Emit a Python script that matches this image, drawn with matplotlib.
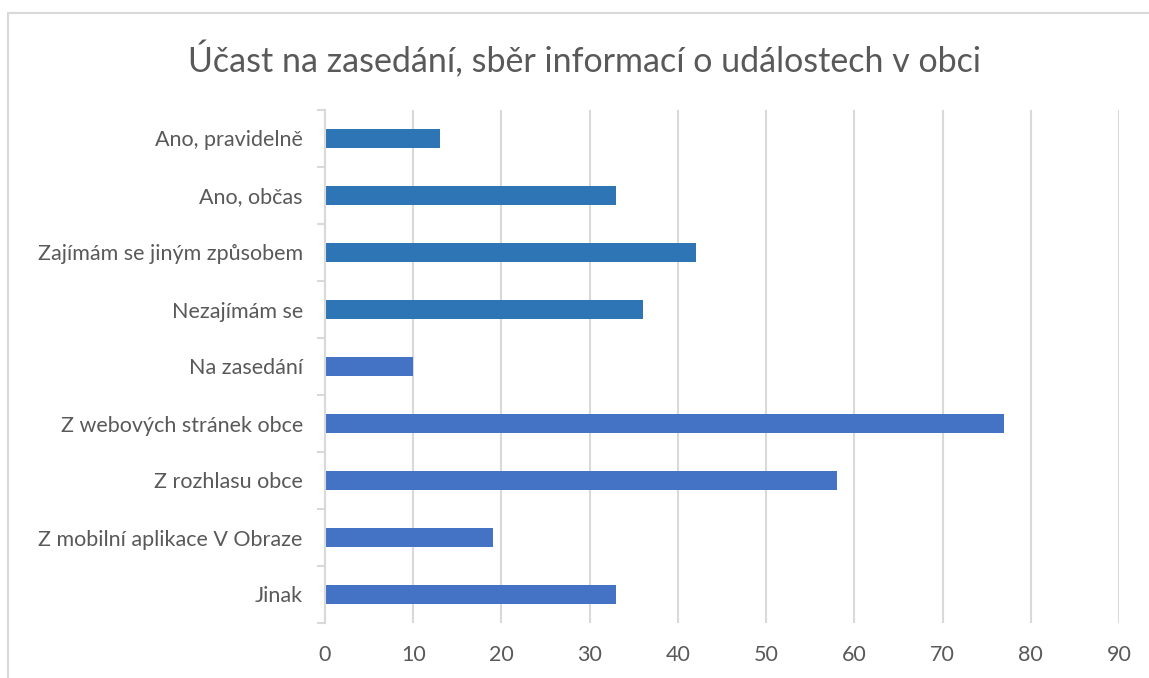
import numpy as np
import matplotlib.pyplot as plt
from matplotlib.patches import Rectangle

plt.rcParams['font.family'] = ['Lato', 'DejaVu Sans']

# data, top to bottom as shown
categories = ['Ano, pravidelně', 'Ano, občas', 'Zajímám se jiným způsobem',
              'Nezajímám se', 'Na zasedání', 'Z webových stránek obce',
              'Z rozhlasu obce', 'Z mobilní aplikace V Obraze', 'Jinak']
values = [13, 33, 42, 36, 10, 77, 58, 19, 33]
colors = ['#2E75B6'] * 4 + ['#4472C4'] * 5
xticks = list(range(0, 100, 10))

text_col = '#595959'
grid_col = '#D9D9D9'

fig = plt.figure(figsize=(11.49, 6.78), dpi=100)
ax = fig.add_axes([325 / 1149, 1 - 623 / 678, (1119 - 325) / 1149, 513 / 678])

y = np.arange(len(categories))[::-1]
ax.barh(y, values, height=0.35, color=colors, zorder=3)

ax.set_xlim(0, 90)
ax.set_ylim(-0.5, len(categories) - 0.5)
ax.set_xticks(xticks)
ax.set_yticks(y)
ax.set_yticklabels(categories)
ax.set_yticks(np.arange(-0.5, len(categories)), minor=True)

ax.grid(axis='x', color=grid_col, linewidth=1.5, zorder=0)
for s in ['top', 'right', 'bottom']:
    ax.spines[s].set_visible(False)
ax.spines['left'].set_color(grid_col)
ax.spines['left'].set_linewidth(1.5)
ax.spines['left'].set_zorder(4)

ax.tick_params(axis='x', length=0, pad=16, labelsize=15.5, labelcolor=text_col)
ax.tick_params(axis='y', which='major', length=0, pad=16, labelsize=15.5, labelcolor=text_col)
ax.tick_params(axis='y', which='minor', length=6, width=1.5, color=grid_col)

fig.text(585 / 1149, 1 - 60 / 678, 'Účast na zasedání, sběr informací o událostech v obci',
         ha='center', va='center', fontsize=24.5, color=text_col)

# chart frame
fig.patches.append(Rectangle((8 / 1149, -0.01), 1.1, 1 - 13 / 678 + 0.01,
                             transform=fig.transFigure, fill=False,
                             edgecolor=grid_col, linewidth=1.5))

fig.savefig('out.png', dpi=100)
